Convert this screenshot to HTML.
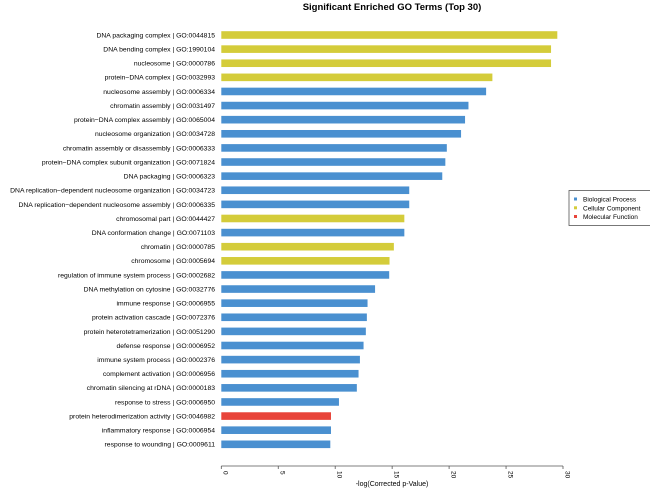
<!DOCTYPE html>
<html><head><meta charset="utf-8"><style>
body{margin:0;background:#fff;}
svg{display:block;font-family:"Liberation Sans",sans-serif;}
</style></head><body>
<svg id="chart" width="650" height="488">
<text x="392" y="10" text-anchor="middle" font-size="9.5" font-weight="bold" fill="#000">Significant Enriched GO Terms (Top 30)</text>
<g id="bars"></g>
<g id="xaxis"></g>
<text x="392" y="486" text-anchor="middle" font-size="7" fill="#000">-log(Corrected p-Value)</text>
<g>
<rect x="569" y="190.5" width="90" height="35" fill="#fff" stroke="#555" stroke-width="0.8"/>
<rect x="574" y="197.5" width="3" height="3" fill="#4a90d0"/>
<text x="583" y="201.5" font-size="6.5">Biological Process</text>
<rect x="574" y="206.3" width="3" height="3" fill="#d4cc3a"/>
<text x="583" y="210.3" font-size="6.5">Cellular Component</text>
<rect x="574" y="215" width="3" height="3" fill="#e8443a"/>
<text x="583" y="219" font-size="6.5">Molecular Function</text>
</g>
</svg>
<script>
const terms=["DNA packaging complex | GO:0044815","DNA bending complex | GO:1990104","nucleosome | GO:0000786","protein\u2212DNA complex | GO:0032993","nucleosome assembly | GO:0006334","chromatin assembly | GO:0031497","protein\u2212DNA complex assembly | GO:0065004","nucleosome organization | GO:0034728","chromatin assembly or disassembly | GO:0006333","protein\u2212DNA complex subunit organization | GO:0071824","DNA packaging | GO:0006323","DNA replication\u2212dependent nucleosome organization | GO:0034723","DNA replication\u2212dependent nucleosome assembly | GO:0006335","chromosomal part | GO:0044427","DNA conformation change | GO:0071103","chromatin | GO:0000785","chromosome | GO:0005694","regulation of immune system process | GO:0002682","DNA methylation on cytosine | GO:0032776","immune response | GO:0006955","protein activation cascade | GO:0072376","protein heterotetramerization | GO:0051290","defense response | GO:0006952","immune system process | GO:0002376","complement activation | GO:0006956","chromatin silencing at rDNA | GO:0000183","response to stress | GO:0006950","protein heterodimerization activity | GO:0046982","inflammatory response | GO:0006954","response to wounding | GO:0009611"];
const values=[29.5,28.95,28.95,23.8,23.25,21.7,21.4,21.05,19.8,19.67,19.4,16.5,16.5,16.07,16.07,15.15,14.77,14.74,13.5,12.84,12.78,12.69,12.49,12.17,12.05,11.9,10.33,9.63,9.63,9.57];
const categories=["CC","CC","CC","CC","BP","BP","BP","BP","BP","BP","BP","BP","BP","CC","BP","CC","CC","BP","BP","BP","BP","BP","BP","BP","BP","BP","BP","MF","BP","BP"];
const xTicks=[0,5,10,15,20,25,30];
const colors={BP:"#4a90d0",CC:"#d4cc3a",MF:"#e8443a"};
const NS="http://www.w3.org/2000/svg";
const x0=221.3,x1=563,xmax=30;
const xs=v=>x0+(v/xmax)*(x1-x0);
const yTop=35,yStep=(444.3-35)/29;
const ys=i=>yTop+i*yStep;
const bars=document.getElementById('bars');
terms.forEach((t,i)=>{
  const r=document.createElementNS(NS,'rect');
  r.setAttribute('x',x0);r.setAttribute('y',ys(i)-3.8);
  r.setAttribute('width',xs(values[i])-x0);r.setAttribute('height',7.6);
  r.setAttribute('fill',colors[categories[i]]);
  
  
  bars.appendChild(r);
  const l=document.createElementNS(NS,'text');
  l.setAttribute('x',215);l.setAttribute('y',ys(i)+2.4);
  l.setAttribute('text-anchor','end');l.setAttribute('font-size','6.8');
  l.textContent=t;
  
  
  bars.appendChild(l);
});
const ax=document.getElementById('xaxis');
const line=document.createElementNS(NS,'line');
line.setAttribute('x1',xs(0));line.setAttribute('x2',xs(30));line.setAttribute('y1',466);line.setAttribute('y2',466);
line.setAttribute('stroke','#555');line.setAttribute('stroke-width','0.8');


ax.appendChild(line);
xTicks.forEach(v=>{
  const tk=document.createElementNS(NS,'line');
  tk.setAttribute('x1',xs(v));tk.setAttribute('x2',xs(v));tk.setAttribute('y1',466);tk.setAttribute('y2',469);
  tk.setAttribute('stroke','#555');tk.setAttribute('stroke-width','0.8');
  
  
  ax.appendChild(tk);
  const tl=document.createElementNS(NS,'text');
  tl.setAttribute('transform','translate('+(xs(v)+2.3)+',471) rotate(90)');
  tl.setAttribute('font-size','6.5');
  tl.textContent=v;
  
  
  ax.appendChild(tl);
});
</script>
</body></html>
